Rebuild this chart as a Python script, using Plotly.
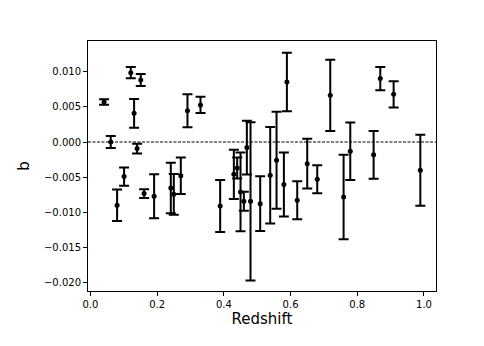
import plotly.graph_objects as go

# redshift, b and its error
z = [0.041, 0.061, 0.080, 0.101, 0.121, 0.131, 0.140, 0.151, 0.161, 0.191,
     0.241, 0.250, 0.271, 0.291, 0.330, 0.389, 0.430, 0.440, 0.450, 0.460,
     0.469, 0.480, 0.509, 0.539, 0.558, 0.580, 0.589, 0.620, 0.650, 0.680,
     0.719, 0.759, 0.779, 0.849, 0.869, 0.909, 0.989]
b = [0.00569, 0.0000, -0.0090, -0.00492, 0.00987, 0.00408, -0.00094, 0.00882, -0.00734, -0.00772,
     -0.00654, -0.00744, -0.00479, 0.00446, 0.00527, -0.0091, -0.0046, -0.0037, -0.0071, -0.00844,
     -0.0008, -0.00844, -0.00877, -0.00474, -0.0026, -0.00606, 0.00853, -0.0083, -0.00308, -0.0053,
     0.00664, -0.00782, -0.00132, -0.00182, 0.00902, 0.00679, -0.00403]
b_err = [0.00038, 0.00085, 0.00223, 0.0013, 0.0008, 0.00204, 0.00069, 0.00085, 0.00062, 0.00313,
         0.0036, 0.0029, 0.0026, 0.00235, 0.00116, 0.0037, 0.0035, 0.0015, 0.0056, 0.00135,
         0.00384, 0.01125, 0.0039, 0.00687, 0.0069, 0.00455, 0.00417, 0.0027, 0.00353, 0.002,
         0.00508, 0.006, 0.0041, 0.0034, 0.00164, 0.00187, 0.00505]

fig = go.Figure()
fig.add_trace(go.Scatter(
    x=z, y=b, mode="markers",
    marker=dict(color="black", size=5),
    error_y=dict(type="data", array=b_err, color="black", thickness=2, width=5),
    showlegend=False))

# zero line
fig.add_hline(y=0, line=dict(color="black", width=1, dash="3px,1.5px"))

# page body has an 8px margin, so shift margins to compensate
fig.update_layout(
    width=484, height=346,
    margin=dict(l=80, r=56, t=33, b=63),
    paper_bgcolor="white", plot_bgcolor="white",
    font=dict(family="DejaVu Sans", size=10, color="black"),
)
fig.update_xaxes(
    range=[-0.0072, 1.036], tickvals=[0, 0.2, 0.4, 0.6, 0.8, 1.0], tickformat=".1f",
    showgrid=False, zeroline=False, showline=True, linecolor="black", linewidth=1,
    mirror=True, ticks="outside", ticklen=4, tickcolor="black",
    title=dict(text="Redshift", font=dict(size=15), standoff=4))
fig.update_yaxes(
    range=[-0.0212, 0.01437],
    tickvals=[-0.020, -0.015, -0.010, -0.005, 0.0, 0.005, 0.010], tickformat=".3f",
    showgrid=False, zeroline=False, showline=True, linecolor="black", linewidth=1,
    mirror=True, ticks="outside", ticklen=4, tickcolor="black",
    title=dict(text="b", font=dict(size=15), standoff=10))

fig.write_html("out.html")
